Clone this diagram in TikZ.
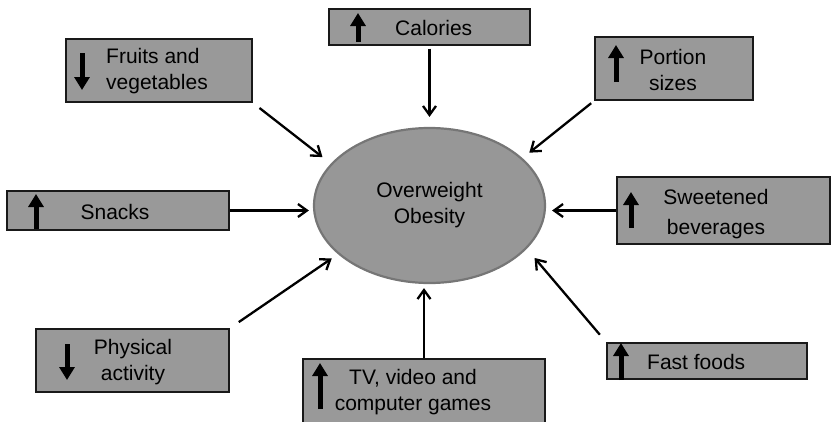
\documentclass[tikz,border=0pt]{standalone}
\usepackage{fontspec}
\setmainfont{Liberation Sans}
\usetikzlibrary{positioning,arrows.meta,shapes}

\definecolor{boxgray}{RGB}{153,153,153}
\definecolor{ovalgray}{RGB}{151,151,151}
\definecolor{ovalrim}{RGB}{118,118,118}

\tikzset{
  factor/.style={rectangle, draw=black!90, fill=boxgray, line width=1.4pt, inner sep=0pt},
  factortext/.style={inner sep=0pt},
  oval/.style={ellipse, draw=ovalrim, fill=ovalgray, line width=2.2pt, inner sep=0pt,
               minimum width=231pt, minimum height=155pt, align=center},
  updown/.style={line width=5pt, -{Triangle[length=13pt,width=15pt]}},
  link/.style={line width=2.3pt, -{Straight Barb[length=9pt,width=13pt]}}
}

\begin{document}
\begin{tikzpicture}[x=1pt, y=-1pt, font=\fontsize{21}{26}\selectfont]
\useasboundingbox (0,0) rectangle (831,421);
%
    % centre
    \node[oval] (obes) at (429.5,205.5) {Overweight\\Obesity};
%
    % boxes
    \node[factor, minimum width=186pt, minimum height=63pt] (fruit) at (159,70.5) {};
    \node[factor, minimum width=201pt, minimum height=36pt] (cal) at (429.5,27) {};
    \node[factor, minimum width=158pt, minimum height=63pt] (portion) at (674,68.5) {};
    \node[factor, minimum width=222pt, minimum height=39pt] (snack) at (118,210.5) {};
    \node[factor, minimum width=213pt, minimum height=67pt] (sweet) at (723.5,210.5) {};
    \node[factor, minimum width=193pt, minimum height=63pt] (phys) at (132.5,360.5) {};
    \node[factor, minimum width=242pt, minimum height=65pt] (tv) at (424,391.5) {};
    \node[factor, minimum width=200pt, minimum height=36pt] (fast) at (707,361) {};
%
    % texts
    \node[factortext, anchor=west, align=left] (fruitlbl) at (106,71) {Fruits and\\vegetables};
    \node[factortext, anchor=west] (callbl) at (395,28) {Calories};
    \node[factortext, align=center] (portionlbl) at (673,70) {Portion\\sizes};
    \node[factortext] (snacklbl) at (115,212) {Snacks};
    \node[factortext, align=center, font=\fontsize{21}{30}\selectfont] (sweetlbl) at (716,214) {Sweetened\\beverages};
    \node[factortext, align=center] (physlbl) at (133,362) {Physical\\activity};
    \node[factortext, align=center] (tvlbl) at (413,392) {TV, video and\\computer games};
    \node[factortext, anchor=west] (fastlbl) at (647,362) {Fast foods};
%
    % up / down marks
    \draw[updown] (82,53) -- (82,90);
    \draw[updown] (358,42) -- (358,13);
    \draw[updown] (616,82) -- (616,45);
    \draw[updown] (36,229) -- (36,194);
    \draw[updown] (631,228) -- (631,192);
    \draw[updown] (67,344) -- (67,380);
    \draw[updown] (320,409) -- (320,363);
    \draw[updown] (621,380) -- (621,343);
%
    % arrows into the oval
    \draw[link, shorten <=8.6pt, shorten >=10.6pt] (fruit.south east) -- (obes.157);
    \draw[link, shorten <=3pt, shorten >=10pt] (cal.south) -- (obes.north);
    \draw[link, shorten <=4pt, shorten >=8.7pt] (portion.south west) -- (obes.27);
    \draw[link, shorten >=4pt] (snack.east) -- (snack.east -| obes.west);
    \draw[link, shorten >=6pt] (sweet.west) -- (sweet.west -| obes.east);
    \draw[link, shorten <=11pt, shorten >=7.5pt] (phys.north east) -- (obes.208);
    \draw[link, shorten >=4pt] (tv.north) -- (tv.north |- obes.south);
    \draw[link, shorten <=10pt, shorten >=12pt] (fast.north west) -- (obes.336);
\end{tikzpicture}
\end{document}
